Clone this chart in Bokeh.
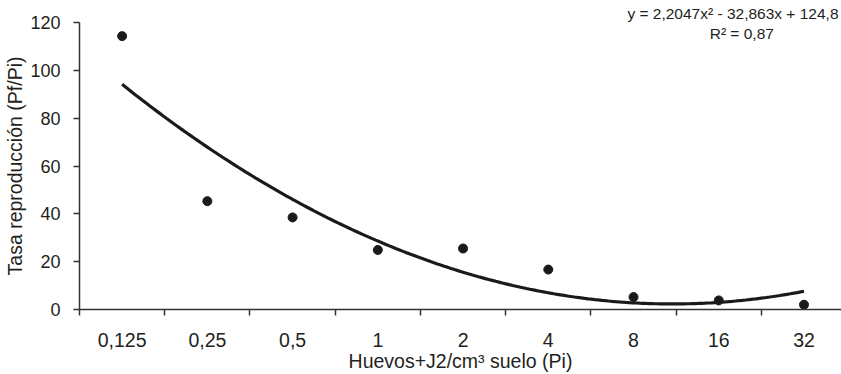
import numpy as np
from bokeh.plotting import figure
from bokeh.models import Range1d, FixedTicker, Label, Title
from bokeh.embed import file_html
from bokeh.resources import INLINE

# ---- data ----
categories = ["0,125", "0,25", "0,5", "1", "2", "4", "8", "16", "32"]
tasa = [114.3, 45.3, 38.5, 24.9, 25.5, 16.7, 5.2, 3.8, 2.0]
y_ticks = [0, 20, 40, 60, 80, 100, 120]
trend_coef = [2.2047, -32.863, 124.8]   # coefficients printed on the chart
eq_text = "y = 2,2047x\u00b2 - 32,863x + 124,8"
r2_text = "R\u00b2 = 0,87"
x_title = "Huevos+J2/cm\u00b3 suelo (Pi)"
y_title = "Tasa reproducción (Pf/Pi)"

FONT = "Liberation Sans"
INK = "#231f20"

pos = list(range(1, len(categories) + 1))
bounds = [i + 0.5 for i in range(0, len(categories) + 1)]

p = figure(width=841, height=374, output_backend="svg", toolbar_location=None,
           x_range=Range1d(0.5, 9.44), y_range=Range1d(0, 120),
           min_border_left=79, min_border_right=0, min_border_top=22,
           min_border_bottom=63)
p.outline_line_color = None
p.grid.visible = False
p.background_fill_color = "white"
p.border_fill_color = "white"

# regression equation placed above the frame, right-aligned
p.title = Title(text=eq_text, align="right", text_font=FONT,
                text_font_size="15.5px", text_font_style="normal",
                text_color=INK, standoff=1, offset=3)

# trend line (from printed regression coefficients)
xs = np.linspace(pos[0], pos[-1], 200)
ys = np.polyval(trend_coef, xs)
p.line(xs, ys, line_color="#1a1a1a", line_width=3.2)

# points
p.scatter(pos, tasa, size=9, color="#1a1a1a")

# x axis
xa = p.xaxis[0]
xa.ticker = FixedTicker(ticks=pos, minor_ticks=bounds)
xa.major_label_overrides = {i: c for i, c in zip(pos, categories)}
xa.major_tick_line_color = None
xa.major_tick_in = 0
xa.major_tick_out = 0
xa.minor_tick_in = 0
xa.minor_tick_out = 6
xa.minor_tick_line_color = "#333333"
xa.minor_tick_line_width = 1.5
xa.axis_line_color = "#333333"
xa.axis_line_width = 1.5
xa.major_label_standoff = 17
xa.major_label_text_font = FONT
xa.major_label_text_font_size = "19.5px"
xa.major_label_text_color = INK
xa.axis_label = x_title
xa.axis_label_text_font = FONT
xa.axis_label_text_font_size = "19.5px"
xa.axis_label_text_font_style = "normal"
xa.axis_label_text_color = INK
xa.axis_label_standoff = 0

# y axis
ya = p.yaxis[0]
ya.ticker = FixedTicker(ticks=y_ticks, minor_ticks=[])
ya.major_tick_in = 0
ya.major_tick_out = 6
ya.major_tick_line_color = "#333333"
ya.major_tick_line_width = 1.5
ya.axis_line_color = "#333333"
ya.axis_line_width = 1.5
ya.major_label_standoff = 13
ya.major_label_text_font = FONT
ya.major_label_text_font_size = "18px"
ya.major_label_text_color = INK
ya.axis_label = y_title
ya.axis_label_text_font = FONT
ya.axis_label_text_font_size = "19.5px"
ya.axis_label_text_font_style = "normal"
ya.axis_label_text_color = INK
ya.axis_label_standoff = 1

# R² annotation inside the frame
p.add_layout(Label(x=8.27, y=115.4, text=r2_text, text_align="center",
                   text_baseline="middle",
                   text_font=FONT, text_font_size="15.5px", text_color=INK))

open("out.html", "w").write(file_html(p, INLINE))
